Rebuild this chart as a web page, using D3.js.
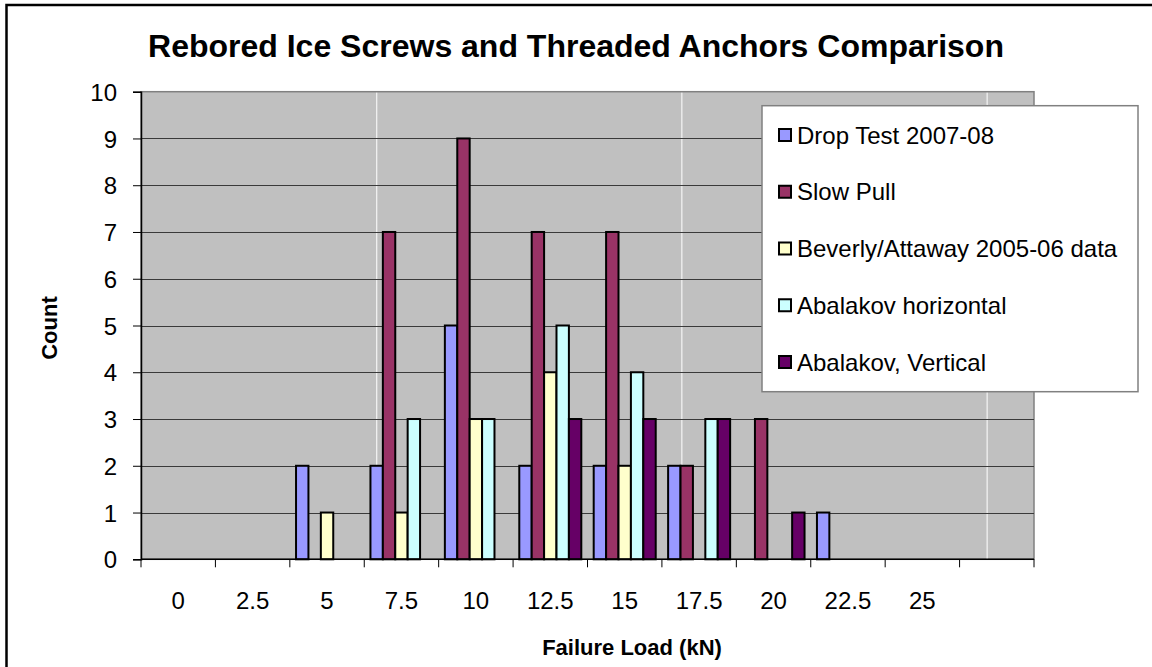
<!DOCTYPE html>
<html>
<head>
<meta charset="utf-8">
<script src="https://cdn.jsdelivr.net/npm/d3@7"></script>
<style>
  html, body { margin: 0; padding: 0; background: #fff; }
  svg { display: block; font-family: Arial, "Liberation Sans", sans-serif; }
</style>
</head>
<body>
<svg id="chart" width="1152" height="667"></svg>
<script>
// ---- data ----
const categories = ["0", "2.5", "5", "7.5", "10", "12.5", "15", "17.5", "20", "22.5", "25", ""];
const seriesNames = ["Drop Test 2007-08", "Slow Pull", "Beverly/Attaway 2005-06 data", "Abalakov horizontal", "Abalakov, Vertical"];
const dropTest   = [0, 0, 2, 2, 5, 2, 2, 2, 0, 1, 0, 0];
const slowPull   = [0, 0, 0, 7, 9, 7, 7, 2, 3, 0, 0, 0];
const beverly    = [0, 0, 1, 1, 3, 4, 2, 0, 0, 0, 0, 0];
const abalakovH  = [0, 0, 0, 3, 3, 5, 4, 3, 0, 0, 0, 0];
const abalakovV  = [0, 0, 0, 0, 0, 3, 3, 3, 1, 0, 0, 0];
const yTicks = [0, 1, 2, 3, 4, 5, 6, 7, 8, 9, 10];
const seriesColors = ["#9999FF", "#993366", "#FFFFCC", "#CCFFFF", "#660066"];
const chartTitle = "Rebored Ice Screws and Threaded Anchors Comparison";
const xTitle = "Failure Load (kN)";
const yTitle = "Count";
// secondary (hidden) vertical gridlines, in category units
const whiteGridAt = [3.168, 7.268, 11.37];

const seriesValues = [dropTest, slowPull, beverly, abalakovH, abalakovV];

// ---- layout ----
const svg = d3.select("#chart");
const plot = { left: 141, right: 1034, top: 91.7, bottom: 559.3 };

// outer frame
svg.append("rect")
  .attr("x", 6.5).attr("y", 5).attr("width", 1200).attr("height", 700)
  .attr("fill", "#fff").attr("stroke", "#000").attr("stroke-width", 2.5);

const x = d3.scaleBand().domain(d3.range(categories.length)).range([plot.left, plot.right]).paddingInner(0).paddingOuter(0);
const xs = d3.scaleBand().domain(d3.range(seriesNames.length)).range([0, x.bandwidth()]).paddingInner(0).paddingOuter(0.5);
const y = d3.scaleLinear().domain([0, 10]).range([plot.bottom, plot.top]);
const xCat = d3.scaleLinear().domain([0, categories.length]).range([plot.left, plot.right]);

// plot background
svg.append("rect")
  .attr("x", plot.left).attr("y", plot.top)
  .attr("width", plot.right - plot.left).attr("height", plot.bottom - plot.top)
  .attr("fill", "#C0C0C0").attr("stroke", "#808080").attr("stroke-width", 1.5);

// white vertical gridlines
svg.append("g").selectAll("line").data(whiteGridAt).join("line")
  .attr("x1", d => xCat(d)).attr("x2", d => xCat(d))
  .attr("y1", plot.top + 1).attr("y2", plot.bottom)
  .attr("stroke", "#ffffff").attr("stroke-width", 1);

// horizontal gridlines
svg.append("g").selectAll("line").data(yTicks.filter(t => t > 0 && t < 10)).join("line")
  .attr("x1", plot.left).attr("x2", plot.right)
  .attr("y1", d => Math.round(y(d)) + 0.5).attr("y2", d => Math.round(y(d)) + 0.5)
  .attr("stroke", "#3a3a3a").attr("stroke-width", 1);

// bars
const barG = svg.append("g");
seriesValues.forEach((vals, si) => {
  barG.append("g").selectAll("rect")
    .data(vals.map((v, i) => ({ v, i })).filter(d => d.v > 0))
    .join("rect")
    .attr("x", d => x(d.i) + xs(si))
    .attr("width", xs.bandwidth())
    .attr("y", d => y(d.v))
    .attr("height", d => y(0) - y(d.v))
    .attr("fill", seriesColors[si])
    .attr("stroke", "#000").attr("stroke-width", 2);
});

// y axis
const yAxis = d3.axisLeft(y).tickValues(yTicks).tickSize(8).tickPadding(16).tickFormat(d3.format("d"));
const gy = svg.append("g").attr("transform", `translate(${plot.left},0)`).call(yAxis);
gy.select(".domain").attr("stroke", "#000").attr("stroke-width", 1.5);
gy.selectAll(".tick line").attr("stroke", "#000");
gy.selectAll(".tick text").attr("font-size", 24).attr("fill", "#000").attr("dy", "0.36em")
  .attr("font-family", "Arial, 'Liberation Sans', sans-serif");

// x axis: ticks at category boundaries, labels centred
const xAxisG = svg.append("g").attr("transform", `translate(0,${plot.bottom})`);
xAxisG.append("line").attr("x1", plot.left).attr("x2", plot.right).attr("y1", 0).attr("y2", 0)
  .attr("stroke", "#000").attr("stroke-width", 1.5);
const boundaries = d3.range(categories.length + 1).map(i => xCat(i));
xAxisG.selectAll("line.tk").data(boundaries).join("line").attr("class", "tk")
  .attr("x1", d => d).attr("x2", d => d).attr("y1", 0).attr("y2", 8)
  .attr("stroke", "#000").attr("stroke-width", 1);
xAxisG.selectAll("text").data(categories).join("text")
  .attr("x", (d, i) => x(i) + x.bandwidth() / 2)
  .attr("y", 50)
  .attr("text-anchor", "middle")
  .attr("font-size", 24).attr("fill", "#000")
  .text(d => d);

// titles
svg.append("text").attr("x", 576).attr("y", 57).attr("text-anchor", "middle")
  .attr("font-size", 32).attr("font-weight", "bold").text(chartTitle);
svg.append("text").attr("x", 632).attr("y", 655).attr("text-anchor", "middle")
  .attr("font-size", 22).attr("font-weight", "bold").text(xTitle);
svg.append("text").attr("transform", "translate(57,328) rotate(-90)").attr("text-anchor", "middle")
  .attr("font-size", 22).attr("font-weight", "bold").text(yTitle);

// legend
const lg = svg.append("g");
lg.append("rect").attr("x", 762).attr("y", 105.7).attr("width", 376).attr("height", 286)
  .attr("fill", "#fff").attr("stroke", "#808080").attr("stroke-width", 1.5);
const lgY = d3.scalePoint().domain(d3.range(seriesNames.length)).range([135, 362]);
seriesNames.forEach((name, i) => {
  lg.append("rect").attr("x", 779).attr("y", lgY(i) - 6).attr("width", 12).attr("height", 12)
    .attr("fill", seriesColors[i]).attr("stroke", "#000").attr("stroke-width", 2);
  lg.append("text").attr("x", 797).attr("y", lgY(i)).attr("dy", "0.36em")
    .attr("font-size", 24).attr("fill", "#000").text(name);
});
</script>
</body>
</html>
